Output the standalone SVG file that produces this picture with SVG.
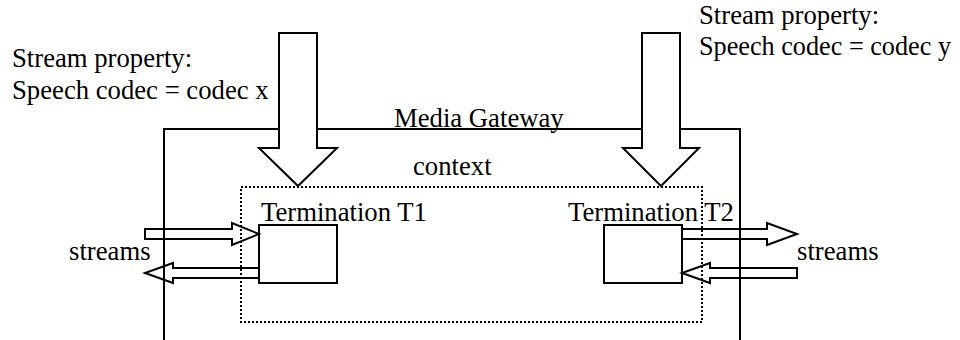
<svg xmlns="http://www.w3.org/2000/svg" width="960" height="340" viewBox="0 0 960 340">
<style>
text{font-family:"Liberation Serif","Times New Roman",serif;font-size:26.7px;fill:#000}
.ln{fill:none;stroke:#000;stroke-width:2}
.big{fill:#fff;stroke:#000;stroke-width:2}
.sm{fill:none;stroke:#000;stroke-width:2}
.box{fill:#fff;stroke:#000;stroke-width:2}
.ctx{fill:none;stroke:#000;stroke-width:2;stroke-dasharray:2 2}
</style>
<rect width="960" height="340" fill="#fff"/>
<g id="media-gateway">
<path class="ln" d="M164,340 V129 H740 V340"/>
<text x="394" y="127">Media Gateway</text>
</g>
<g id="context">
<rect class="ctx" x="241" y="187" width="461" height="135"/>
<text x="413" y="175">context</text>
</g>
<g id="label-left">
<text x="12" y="67">Stream property:</text>
<text x="12" y="99">Speech codec = codec x</text>
</g>
<g id="label-right">
<text x="699" y="24">Stream property:</text>
<text x="699" y="55" textLength="252" lengthAdjust="spacingAndGlyphs">Speech codec = codec y</text>
</g>
<g id="t1">
<rect class="box" x="259" y="225" width="78" height="58"/>
<text x="261" y="221">Termination T1</text>
</g>
<g id="t2">
<rect class="box" x="604" y="225" width="78" height="58"/>
<text x="568" y="221">Termination T2</text>
</g>
<g id="streams-left"><text x="69" y="260">streams</text></g>
<g id="streams-right"><text x="797" y="260">streams</text></g>
<g id="connectors">
<path class="big" d="M279,33 H317 V148 H337 L298,186 L259,148 H279 Z"/>
<path class="big" d="M642,33 H680 V148 H699 L661,186 L623,148 H642 Z"/>
<path class="sm" d="M145,229 H232 V223 L259,234 L232,245 V239 H145 Z"/>
<path class="sm" d="M259,268 H173 V263 L145,273 L173,283 V278 H259"/>
<path class="sm" d="M682,229 H767 V223 L797,234 L767,245 V239 H682"/>
<path class="sm" d="M797,268 H710 V263 L682,273 L710,283 V278 H797 Z"/>
</g>
</svg>
